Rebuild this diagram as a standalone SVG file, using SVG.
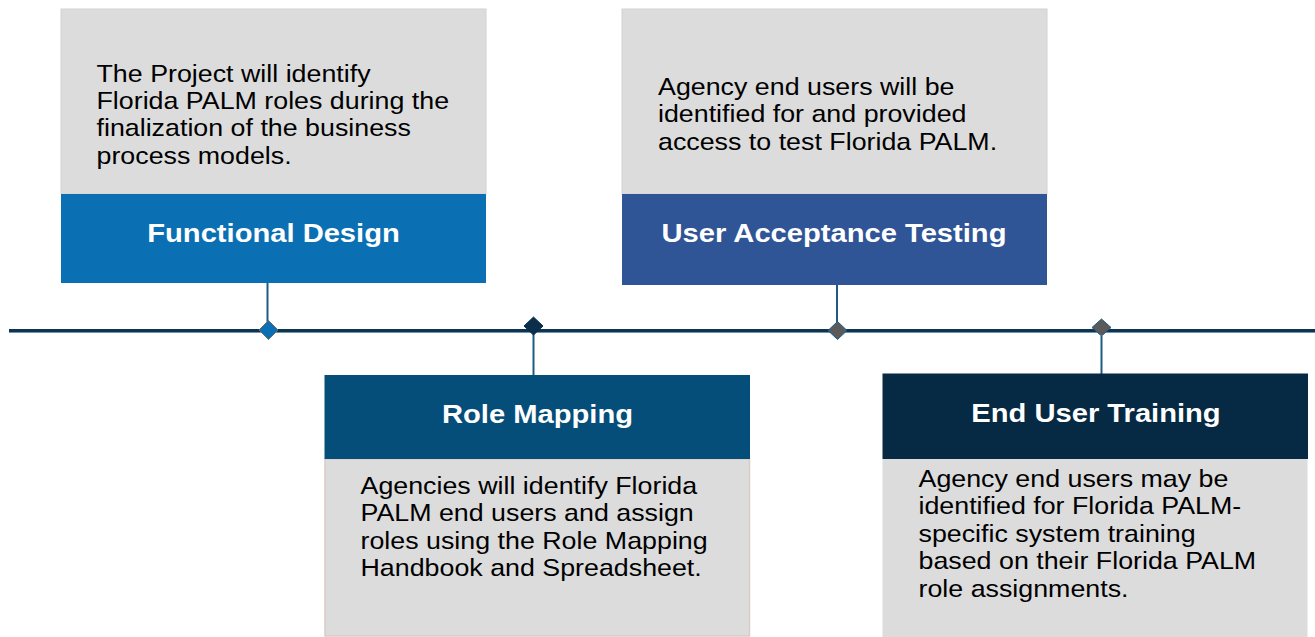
<svg xmlns="http://www.w3.org/2000/svg" width="1315" height="637" viewBox="0 0 1315 637">
<style>
.body{fill:#DCDCDC}
.txt{font-family:"Liberation Sans",Arial,sans-serif;font-size:24px;fill:#000}
.hd{font-family:"Liberation Sans",Arial,sans-serif;font-size:26.5px;font-weight:bold;fill:#fff;text-anchor:middle}
.conn{stroke:#1F5A85;stroke-width:2;fill:none}
</style>
<rect width="1315" height="637" fill="#fff"/>
<g id="timeline">
<line x1="9" y1="330.5" x2="1315" y2="330.5" stroke="#0D3452" stroke-width="3"/>
<line x1="9" y1="332.5" x2="1315" y2="332.5" stroke="#7393AB" stroke-width="1"/>
</g>
<g id="connectors">
<line class="conn" x1="267.5" y1="283" x2="267.5" y2="322"/>
<line class="conn" x1="533.5" y1="334" x2="533.5" y2="376"/>
<line class="conn" x1="837" y1="285" x2="837" y2="322"/>
<line class="conn" x1="1101.5" y1="336" x2="1101.5" y2="374"/>
</g>
<g id="markers">
<polygon points="268.5,320.5 278,330 268.5,339.5 259,330" fill="#0A70B3" stroke="#6A6A6A" stroke-width="1"/>
<polygon points="533.5,317 543,326 533.5,335 524,326" fill="#0B2F4A" stroke="#0B2F4A" stroke-width="1"/>
<polygon points="837.5,321.5 847,330.5 837.5,339.5 828,330.5" fill="#5A5A5A" stroke="#1F5A85" stroke-width="1"/>
<polygon points="1101.5,319 1111,327.5 1101.5,336 1092,327.5" fill="#5A5A5A" stroke="#1F5A85" stroke-width="1"/>
</g>
<g id="functional-design">
<rect class="body" x="61" y="9" width="425" height="185" stroke="#D2D2D2" stroke-width="1"/>
<rect x="61" y="194" width="425" height="89" fill="#0A70B3"/>
<text class="txt" transform="translate(96.5,81.7) scale(1.117,1)"><tspan x="0" y="0">The Project will identify</tspan><tspan x="0" y="27.4">Florida PALM roles during the</tspan><tspan x="0" y="54.8">finalization of the business</tspan><tspan x="0" y="82.2">process models.</tspan></text>
<text class="hd" transform="translate(273.5,241.7) scale(1.1,1)">Functional Design</text>
</g>
<g id="user-acceptance-testing">
<rect class="body" x="622" y="9" width="425" height="185" stroke="#D2D2D2" stroke-width="1"/>
<rect x="622" y="194" width="425" height="91" fill="#2F5597"/>
<text class="txt" transform="translate(658,95) scale(1.117,1)"><tspan x="0" y="0">Agency end users will be</tspan><tspan x="0" y="27.5">identified for and provided</tspan><tspan x="0" y="55">access to test Florida PALM.</tspan></text>
<text class="hd" transform="translate(834,242.3) scale(1.1,1)">User Acceptance Testing</text>
</g>
<g id="role-mapping">
<rect class="body" x="325" y="459" width="424.5" height="177" stroke="#DCCBC8" stroke-width="1.5"/>
<rect x="324.5" y="375" width="425.5" height="84" fill="#054E79"/>
<text class="hd" transform="translate(537.5,422.7) scale(1.1,1)">Role Mapping</text>
<text class="txt" transform="translate(360.5,494) scale(1.117,1)"><tspan x="0" y="0">Agencies will identify Florida</tspan><tspan x="0" y="27.5">PALM end users and assign</tspan><tspan x="0" y="55">roles using the Role Mapping</tspan><tspan x="0" y="82.5">Handbook and Spreadsheet.</tspan></text>
</g>
<g id="end-user-training">
<rect class="body" x="882.5" y="459" width="425" height="178"/>
<rect x="882.5" y="373.5" width="425.5" height="85.5" fill="#062A43"/>
<text class="hd" transform="translate(1096,422.3) scale(1.1,1)">End User Training</text>
<text class="txt" transform="translate(918.5,487) scale(1.117,1)"><tspan x="0" y="0">Agency end users may be</tspan><tspan x="0" y="27.4">identified for Florida PALM-</tspan><tspan x="0" y="54.8">specific system training</tspan><tspan x="0" y="82.2">based on their Florida PALM</tspan><tspan x="0" y="109.6">role assignments.</tspan></text>
</g>
</svg>
